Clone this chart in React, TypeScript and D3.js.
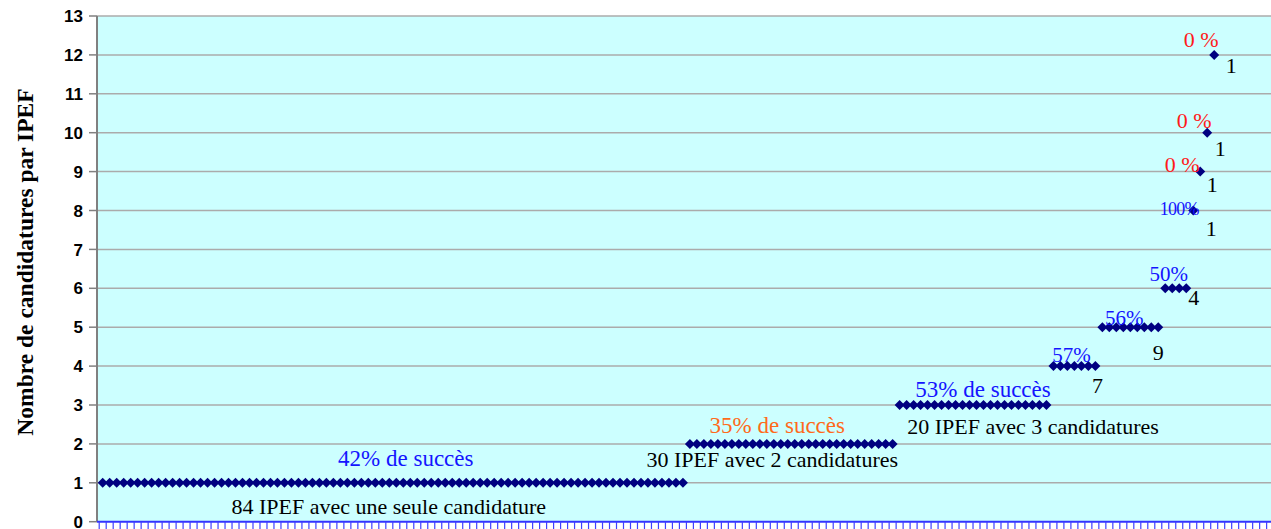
/**
 * Candidatures par IPEF: one diamond per IPEF, sorted by number of candidatures.
 * Category x axis (one slot per IPEF), linear y axis 0..13.
 */
import React, { useEffect } from 'react';
import * as d3 from 'd3';

const WIDTH = 1271;
const HEIGHT = 529;

// number of candidatures (y level) and how many IPEF sit at that level
const levels = [1, 2, 3, 4, 5, 6, 8, 9, 10, 12];
const counts = [84, 30, 22, 7, 9, 4, 1, 1, 1, 1];
const successLabels = ['42% de succès', '35% de succès', '53% de succès', '57%', '56%', '50%', '100%', '0 %', '0 %', '0 %'];
const countLabels = [
  '84 IPEF avec une seule candidature',
  '30 IPEF avec 2 candidatures',
  '20 IPEF avec 3 candidatures',
  '7', '9', '4', '1', '1', '1', '1',
];
const yTicks = d3.range(0, 14);
const X_SLOTS = 175; // category slots on the x axis (runs past the right edge)

// label placement relative to group centre (px)
const successStyle = [
  { dx: 13, dy: -17, size: 23, color: '#1414FF' },
  { dx: -14, dy: -11, size: 23, color: '#FF6A1A' },
  { dx: 10, dy: -8, size: 23, color: '#1414FF' },
  { dx: -3, dy: -4, size: 21, color: '#1414FF' },
  { dx: -6, dy: -2, size: 21, color: '#1414FF' },
  { dx: -7, dy: -7, size: 21, color: '#1414FF' },
  { dx: -14, dy: 4, size: 18, color: '#1414FF' },
  { dx: -18, dy: 0, size: 22, color: '#FF1A1A' },
  { dx: -13, dy: -5, size: 22, color: '#FF1A1A' },
  { dx: -13, dy: -8, size: 22, color: '#FF1A1A' },
];
const countStyle = [
  { dx: -4, dy: 31 },
  { dx: -19, dy: 23 },
  { dx: 60, dy: 29 },
  { dx: 23, dy: 27 },
  { dx: 28, dy: 33 },
  { dx: 18, dy: 17 },
  { dx: 18, dy: 25 },
  { dx: 12, dy: 20 },
  { dx: 13, dy: 23 },
  { dx: 17, dy: 18 },
];

// expand groups into individual points
const points: { i: number; v: number }[] = [];
const groups: { start: number; end: number; v: number }[] = [];
levels.forEach((v, g) => {
  const start = points.length;
  for (let k = 0; k < counts[g]; k++) points.push({ i: points.length, v });
  groups.push({ start, end: points.length - 1, v });
});

const PLOT_LEFT = 97;
const x = d3.scaleLinear().domain([0, points.length - 1]).range([102.7, 1214.2]);
const y = d3.scaleLinear().domain([0, 13]).range([521.7, 16]);

const diamond = (r: number) => `M0,${-r}L${r},0L0,${r}L${-r},0Z`;

export default function App() {
  useEffect(() => {
    document.body.style.margin = '0';
  }, []);

  const serif = '"Liberation Serif", "Times New Roman", serif';
  const sans = '"Liberation Sans", Arial, sans-serif';
  const slotTicks = d3.range(0, X_SLOTS).map((k) => x(k - 0.5));

  return (
    <svg width={WIDTH} height={HEIGHT} style={{ display: 'block', background: '#fff' }}>
      <rect x={PLOT_LEFT} y={y(13)} width={WIDTH - PLOT_LEFT} height={y(0) - y(13)} fill="#CCFFFF" />

      {/* horizontal gridlines */}
      {yTicks.filter((t) => t > 0).map((t) => (
        <line key={t} x1={PLOT_LEFT} x2={WIDTH} y1={y(t)} y2={y(t)} stroke="#ABABAB" strokeWidth={1.5} />
      ))}

      {/* y axis */}
      <line x1={PLOT_LEFT} x2={PLOT_LEFT} y1={y(13)} y2={y(0)} stroke="#808080" strokeWidth={2} />
      {yTicks.map((t) => (
        <g key={t} transform={`translate(0,${y(t)})`}>
          <line x1={89} x2={PLOT_LEFT} stroke="#808080" strokeWidth={1.5} />
          <text x={83} dy="0.36em" textAnchor="end" fontFamily={sans} fontWeight="bold" fontSize={17} fill="#000">
            {t}
          </text>
        </g>
      ))}

      {/* x axis with a tick between every slot */}
      <line x1={PLOT_LEFT} x2={WIDTH} y1={y(0)} y2={y(0)} stroke="#3333FF" strokeWidth={2} />
      {slotTicks.map((tx, k) => (
        <line key={k} x1={tx} x2={tx} y1={y(0)} y2={HEIGHT} stroke="#4040FF" strokeWidth={1.2} />
      ))}

      <text
        transform={`translate(33,262) rotate(-90)`}
        textAnchor="middle"
        fontFamily={serif}
        fontWeight="bold"
        fontSize={23.5}
        fill="#000"
      >
        Nombre de candidatures par IPEF
      </text>

      {/* data points */}
      {points.map((p) => (
        <path key={p.i} d={diamond(5)} transform={`translate(${x(p.i)},${y(p.v)})`} fill="#000080" />
      ))}

      {/* annotations */}
      {groups.map((g, k) => {
        const cx = x((g.start + g.end) / 2);
        const cy = y(g.v);
        const s = successStyle[k];
        const c = countStyle[k];
        return (
          <g key={k} fontFamily={serif}>
            <text
              x={cx + s.dx}
              y={cy + s.dy}
              textAnchor="middle"
              fontSize={s.size}
              fill={s.color}
              letterSpacing={k === 6 ? -0.8 : 0}
            >
              {successLabels[k]}
            </text>
            <text x={cx + c.dx} y={cy + c.dy} textAnchor="middle" fontSize={22} fill="#000">
              {countLabels[k]}
            </text>
          </g>
        );
      })}
    </svg>
  );
}
